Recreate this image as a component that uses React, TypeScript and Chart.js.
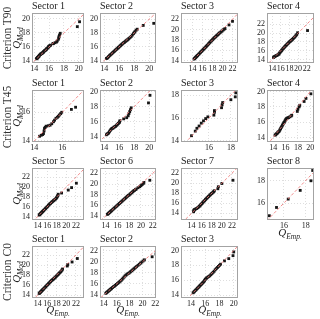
import React, { useEffect, useRef } from "react";
import { Chart, registerables } from "chart.js";
Chart.register(...registerables);

const SERIF = "'Liberation Serif', 'DejaVu Serif', serif";

// ---------- categories / labels ----------
const criteria = ["Criterion T90", "Criterion T45", "Criterion C0"];
const sectorTitles = [
  ["Sector 1", "Sector 2", "Sector 3", "Sector 4"],
  ["Sector 1", "Sector 2", "Sector 3", "Sector 4"],
  ["Sector 5", "Sector 6", "Sector 7", "Sector 8"],
  ["Sector 1", "Sector 2", "Sector 3"],
];

// ---------- tick labels ----------
const ticks14to20 = [14, 16, 18, 20];
const ticks14to22 = [14, 16, 18, 20, 22];
const ticks14to16 = [14, 16];
const ticks14to18 = [14, 16, 18];
const ticks16to18 = [16, 18];

// reference line y = x
const diagonal = [10, 26];

// ---------- series (Q_Emp -> x, Q_Mod -> y) ----------
const t90s1X = [14.3,14.35,14.4,14.45,14.5,14.55,14.6,14.65,14.7,14.8,14.85,14.9,15.0,15.05,15.1,15.2,15.25,15.3,15.4,15.45,15.5,15.6,15.65,15.7,15.8,15.9,15.95,16.0,16.1,16.2,16.5,16.6,16.8,17.0,17.1,17.25,17.3,17.35,17.4,17.5,19.8,20.1];
const t90s1Y = [14.3,14.35,14.4,14.5,14.5,14.6,14.65,14.7,14.8,14.9,14.95,15.0,15.05,15.1,15.15,15.2,15.3,15.35,15.45,15.5,15.55,15.6,15.7,15.75,15.85,15.95,16.05,16.1,16.2,16.25,16.45,16.5,16.6,16.7,16.85,17.1,17.3,17.5,17.7,17.95,18.9,19.6];

const t90s2X = [14.3,14.4,14.5,14.6,14.7,14.8,14.9,15.0,15.1,15.2,15.3,15.4,15.5,15.6,15.7,15.8,15.9,16.0,16.1,16.2,16.3,16.4,16.5,16.6,16.7,16.8,16.9,17.0,17.1,17.2,17.3,17.45,17.6,17.75,17.9,18.0,18.1,18.25,18.4,19.2,20.6];
const t90s2Y = [14.3,14.35,14.45,14.6,14.7,14.8,14.9,15.0,15.1,15.2,15.3,15.4,15.5,15.6,15.7,15.8,15.9,16.0,16.1,16.2,16.3,16.4,16.5,16.6,16.65,16.75,16.85,16.95,17.0,17.1,17.2,17.35,17.5,17.7,17.9,18.05,18.2,18.4,18.55,19.1,19.4];

const t90s3X = [14.3,14.4,14.5,14.6,14.7,14.8,14.9,15.0,15.15,15.3,15.45,15.6,15.75,15.9,16.05,16.2,16.35,16.5,16.65,16.8,16.95,17.1,17.25,17.4,17.55,17.7,17.85,18.0,18.15,18.3,18.45,18.6,18.75,18.9,19.05,19.2,19.35,19.5,19.7,19.9,20.1,20.3,20.5,21.3,22.0];
const t90s3Y = [14.3,14.4,14.5,14.6,14.7,14.8,14.9,15.0,15.15,15.3,15.45,15.6,15.75,15.9,16.05,16.2,16.35,16.5,16.65,16.8,16.95,17.1,17.3,17.45,17.6,17.75,17.9,18.05,18.2,18.35,18.5,18.6,18.75,18.9,19.0,19.15,19.3,19.4,19.55,19.7,19.9,20.05,20.2,20.9,21.6];

const t90s4X = [14.3,14.45,14.6,14.8,15.0,15.2,15.4,15.55,15.7,15.85,16.0,16.15,16.3,16.45,16.6,16.75,16.9,17.05,17.2,17.35,17.5,17.65,17.8,17.95,18.1,18.25,18.4,18.55,18.7,18.9,19.1,19.3,19.5,19.7,19.9,22.2];
const t90s4Y = [14.45,14.6,14.7,14.8,14.9,15.0,15.1,15.25,15.45,15.65,15.85,16.0,16.2,16.4,16.55,16.7,16.9,17.05,17.2,17.35,17.5,17.65,17.8,17.95,18.1,18.2,18.35,18.45,18.6,18.8,19.0,19.2,19.45,19.7,20.1,20.6];

const t45s1X = [14.38,14.5,14.6,14.66,14.7,14.73,14.78,14.85,15.0,15.13,15.25,15.37,15.45,15.55,15.65,15.72,15.79,15.88,15.96,16.65,16.95];
const t45s1Y = [14.33,14.4,14.45,14.52,14.7,14.87,14.95,15.03,15.06,15.1,15.2,15.34,15.45,15.58,15.65,15.72,15.81,15.9,16.0,16.2,16.35];

const t45s2X = [14.3,14.4,14.5,14.6,14.7,14.8,14.9,15.0,15.1,15.2,15.3,15.4,15.5,15.6,15.7,15.8,15.9,16.0,16.05,16.1,16.6,17.0,17.2,17.3,17.4,17.5,17.6,19.9,20.1];
const t45s2Y = [14.3,14.4,14.45,14.55,14.7,14.85,15.0,15.1,15.15,15.2,15.3,15.35,15.4,15.5,15.6,15.7,15.8,15.9,16.0,16.15,16.4,16.55,16.8,17.1,17.35,17.6,17.85,18.5,19.5];

const t45s3X = [14.41,14.75,14.9,15.1,15.3,15.5,15.7,15.9,16.45,16.5,16.5,17.15,17.2,17.25,18.0,18.4,18.45];
const t45s3Y = [14.45,14.85,15.1,15.3,15.55,15.75,15.95,16.1,16.25,16.5,16.65,16.9,17.15,17.35,17.6,17.85,18.2];

const t45s4X = [14.3,14.4,14.5,14.6,14.7,14.8,14.9,15.0,15.1,15.2,15.3,15.4,15.5,15.6,15.7,15.8,15.9,16.0,16.1,16.2,16.35,16.5,16.7,16.9,17.0,17.9,18.0,18.2,18.3,19.0,19.3,20.1];
const t45s4Y = [14.3,14.35,14.45,14.5,14.6,14.7,14.75,14.85,15.0,15.15,15.3,15.45,15.6,15.75,15.9,16.0,16.15,16.3,16.4,16.5,16.55,16.6,16.7,16.8,16.9,17.4,17.7,18.0,18.2,18.7,19.1,19.7];

const t45s5X = [14.3,14.4,14.5,14.6,14.7,14.8,14.9,15.0,15.1,15.2,15.35,15.5,15.65,15.8,15.95,16.1,16.25,16.4,16.55,16.7,16.85,17.0,17.15,17.3,17.45,17.6,17.75,17.9,18.0,18.1,18.2,18.3,19.0,20.4,21.1,22.1];
const t45s5Y = [14.3,14.4,14.5,14.6,14.7,14.8,14.9,15.0,15.1,15.2,15.35,15.5,15.65,15.8,15.95,16.1,16.3,16.45,16.6,16.7,16.85,17.0,17.1,17.25,17.35,17.5,17.6,17.75,17.9,18.1,18.3,18.55,18.8,19.4,19.9,20.8];

const t45s6X = [14.3,14.4,14.5,14.6,14.7,14.8,14.9,15.0,15.15,15.3,15.45,15.6,15.75,15.9,16.05,16.2,16.35,16.5,16.65,16.8,16.95,17.1,17.25,17.4,17.55,17.7,17.85,18.0,18.15,18.3,18.45,18.6,18.75,18.9,19.05,19.2,19.5,19.8,20.0,20.2,20.4,20.5,21.5];
const t45s6Y = [14.3,14.4,14.5,14.6,14.7,14.8,14.9,15.0,15.15,15.3,15.45,15.6,15.75,15.9,16.05,16.2,16.35,16.5,16.65,16.8,16.95,17.1,17.25,17.4,17.55,17.7,17.85,17.95,18.1,18.25,18.4,18.55,18.7,18.8,18.95,19.05,19.3,19.5,19.7,19.9,20.1,20.3,20.7];

const t45s7X = [14.4,14.45,14.5,14.6,14.8,15.0,15.2,15.4,15.55,15.7,15.85,16.0,16.15,16.3,16.45,16.6,16.75,16.9,17.05,17.2,17.35,17.5,17.65,17.8,17.95,18.1,18.25,18.4,18.5,19.2,19.3,20.0,22.2];
const t45s7Y = [14.3,14.55,14.65,14.75,14.85,14.95,15.1,15.25,15.4,15.55,15.75,15.9,16.05,16.25,16.4,16.55,16.75,16.9,17.05,17.2,17.35,17.5,17.65,17.8,17.95,18.05,18.2,18.35,18.5,18.9,19.3,19.95,20.6];

const t45s8X = [14.66,15.32,16.39,17.49,18.47,18.63];
const t45s8Y = [14.88,15.61,16.35,17.12,17.97,18.88];

const c0s1X = [14.3,14.4,14.5,14.6,14.7,14.8,14.9,15.0,15.1,15.2,15.35,15.5,15.65,15.8,15.95,16.1,16.25,16.4,16.55,16.7,16.85,17.0,17.15,17.3,17.45,17.6,17.75,17.9,18.05,18.2,18.35,18.5,18.65,18.8,18.95,19.1,19.2,20.2,20.3,21.2,22.3];
const c0s1Y = [14.3,14.4,14.5,14.6,14.7,14.8,14.9,15.0,15.1,15.2,15.35,15.5,15.65,15.8,15.95,16.1,16.25,16.4,16.55,16.7,16.85,16.95,17.1,17.2,17.35,17.45,17.6,17.75,17.9,18.05,18.2,18.35,18.5,18.65,18.8,19.0,19.2,19.8,20.1,20.6,21.3];

const c0s2X = [14.3,14.4,14.5,14.6,14.7,14.8,14.9,15.0,15.1,15.2,15.35,15.5,15.65,15.8,15.95,16.1,16.25,16.4,16.55,16.7,16.85,17.0,17.15,17.3,17.45,17.6,17.75,17.9,18.05,18.2,18.35,18.5,18.65,18.8,18.95,19.1,19.3,19.5,19.7,19.9,20.1,20.3,21.5,22.1];
const c0s2Y = [14.3,14.4,14.5,14.6,14.7,14.8,14.9,15.0,15.1,15.2,15.35,15.5,15.6,15.75,15.9,16.05,16.2,16.35,16.5,16.65,16.85,17.05,17.25,17.45,17.6,17.75,17.85,17.95,18.1,18.25,18.4,18.55,18.7,18.85,19.0,19.15,19.35,19.55,19.75,19.95,20.15,20.35,20.9,21.4];

const c0s3X = [14.3,14.4,14.5,14.6,14.7,14.8,14.9,15.0,15.1,15.2,15.3,15.4,15.5,15.6,15.7,15.8,15.9,16.0,16.1,16.2,16.35,16.5,16.65,16.8,16.95,17.1,17.25,17.4,17.55,17.7,17.85,18.0,18.15,18.7,19.3,19.9,20.0];
const c0s3Y = [14.3,14.4,14.5,14.6,14.7,14.8,14.9,15.0,15.1,15.2,15.3,15.4,15.5,15.6,15.7,15.8,15.95,16.1,16.2,16.3,16.4,16.5,16.6,16.75,16.9,17.05,17.2,17.4,17.55,17.7,17.85,18.0,18.15,18.6,18.9,19.3,19.8];

// ---------- layout ----------
const COL_L = [32, 100, 181, 267];
const COL_R = [84, 156, 238, 314];
const ROW_T = [13, 90, 168, 246];
const ROW_B = [63, 142, 220, 298];
const YW = 18, TH = 13, XH = 13, RP = 6;

type Spec = {
  row: number; col: number; xs: number[]; ys: number[];
  xr: [number, number]; yr: [number, number]; xt: number[]; yt: number[];
};

const panels: Spec[] = [
  { row: 0, col: 0, xs: t90s1X, ys: t90s1Y, xr: [13.7, 20.7], yr: [13.7, 20.85], xt: ticks14to20, yt: ticks14to20 },
  { row: 0, col: 1, xs: t90s2X, ys: t90s2Y, xr: [13.45, 20.9], yr: [13.65, 20.9], xt: ticks14to20, yt: ticks14to20 },
  { row: 0, col: 2, xs: t90s3X, ys: t90s3Y, xr: [11.7, 23.1], yr: [13.55, 23.2], xt: ticks14to22, yt: ticks14to22 },
  { row: 0, col: 3, xs: t90s4X, ys: t90s4Y, xr: [12.8, 23.7], yr: [13.2, 24.6], xt: ticks14to22, yt: ticks14to22 },
  { row: 1, col: 0, xs: t45s1X, ys: t45s1Y, xr: [13.84, 17.55], yr: [13.93, 17.55], xt: ticks14to16, yt: ticks14to16 },
  { row: 1, col: 1, xs: t45s2X, ys: t45s2Y, xr: [13.45, 20.9], yr: [13.35, 20.2], xt: ticks14to20, yt: ticks14to20 },
  { row: 1, col: 2, xs: t45s3X, ys: t45s3Y, xr: [13.45, 18.65], yr: [13.9, 18.45], xt: ticks16to18, yt: ticks14to18 },
  { row: 1, col: 3, xs: t45s4X, ys: t45s4Y, xr: [13.0, 20.6], yr: [13.4, 20.2], xt: ticks14to20, yt: ticks14to20 },
  { row: 2, col: 0, xs: t45s5X, ys: t45s5Y, xr: [12.8, 23.7], yr: [13.3, 23.9], xt: ticks14to22, yt: ticks14to22 },
  { row: 2, col: 1, xs: t45s6X, ys: t45s6Y, xr: [13.05, 22.55], yr: [13.25, 23.0], xt: ticks14to22, yt: ticks14to22 },
  { row: 2, col: 2, xs: t45s7X, ys: t45s7Y, xr: [11.9, 23.2], yr: [12.65, 23.05], xt: ticks14to22, yt: ticks14to22 },
  { row: 2, col: 3, xs: t45s8X, ys: t45s8Y, xr: [14.45, 18.75], yr: [14.5, 19.1], xt: ticks16to18, yt: ticks16to18 },
  { row: 3, col: 0, xs: c0s1X, ys: c0s1Y, xr: [12.8, 23.7], yr: [13.4, 23.8], xt: ticks14to22, yt: ticks14to22 },
  { row: 3, col: 1, xs: c0s2X, ys: c0s2Y, xr: [13.4, 22.1], yr: [13.45, 22.85], xt: ticks14to22, yt: ticks14to22 },
  { row: 3, col: 2, xs: c0s3X, ys: c0s3Y, xr: [12.6, 20.6], yr: [13.6, 20.6], xt: ticks14to20, yt: ticks14to20 },
];

const framePlugin = {
  id: "frame",
  afterDraw(chart: any) {
    const { ctx, chartArea } = chart;
    const l = Math.round(chartArea.left), t = Math.round(chartArea.top);
    const r = Math.round(chartArea.right), b = Math.round(chartArea.bottom);
    ctx.save();
    ctx.strokeStyle = "#a3a3a3";
    ctx.lineWidth = 1;
    ctx.strokeRect(l + 0.5, t + 0.5, r - l - 1, b - t - 1);
    ctx.restore();
  },
};

function Panel({ spec }: { spec: Spec }) {
  const ref = useRef<HTMLCanvasElement>(null);
  const boxW = COL_R[spec.col] - COL_L[spec.col];
  const boxH = ROW_B[spec.row] - ROW_T[spec.row];
  const W = boxW + YW + RP;
  const H = boxH + TH + XH;
  const L = COL_L[spec.col] - YW;
  const T = ROW_T[spec.row] - TH;
  const title = sectorTitles[spec.row][spec.col];

  useEffect(() => {
    const tickFont = { family: SERIF, size: 8 };
    const chart = new Chart(ref.current as HTMLCanvasElement, {
      type: "scatter",
      data: {
        datasets: [
          {
            data: diagonal.map((v) => ({ x: v, y: v })),
            showLine: true,
            borderColor: "rgba(240,120,120,0.85)",
            borderWidth: 1,
            borderDash: [3, 2],
            pointRadius: 0,
            fill: false,
          } as any,
          {
            data: spec.xs.map((v, i) => ({ x: v, y: spec.ys[i] })),
            pointStyle: "rect",
            pointRadius: 2,
            backgroundColor: "#161616",
            borderColor: "#000",
            borderWidth: 0,
          } as any,
        ],
      },
      options: {
        animation: false,
        responsive: false,
        devicePixelRatio: 1,
        layout: { padding: { left: 0, right: RP, top: 0, bottom: 0 } },
        plugins: {
          legend: { display: false },
          tooltip: { enabled: false },
          title: {
            display: true,
            text: title,
            align: "start",
            fullSize: false,
            color: "#222",
            font: { family: SERIF, size: 10, weight: "normal" },
            padding: { top: 0, bottom: 1 },
          },
        },
        scales: {
          x: {
            type: "linear",
            min: spec.xr[0],
            max: spec.xr[1],
            afterBuildTicks: (s: any) => { s.ticks = spec.xt.map((v) => ({ value: v })); },
            afterFit: (s: any) => { s.height = XH; },
            grid: { color: "#d6d6d6", lineWidth: 0.8, drawTicks: false },
            border: { display: false, dash: [1, 2] },
            ticks: { font: tickFont, color: "#222", padding: 1, maxRotation: 0, autoSkip: false, callback: (v: any) => String(v) },
          },
          y: {
            type: "linear",
            min: spec.yr[0],
            max: spec.yr[1],
            afterBuildTicks: (s: any) => { s.ticks = spec.yt.map((v) => ({ value: v })); },
            afterFit: (s: any) => { s.width = YW; },
            grid: { color: "#d6d6d6", lineWidth: 0.8, drawTicks: false },
            border: { display: false, dash: [1, 2] },
            ticks: { font: tickFont, color: "#222", padding: 2, autoSkip: false, callback: (v: any) => String(v) },
          },
        },
      } as any,
      plugins: [framePlugin],
    });
    return () => chart.destroy();
  }, []);

  return (
    <canvas
      ref={ref}
      width={W}
      height={H}
      style={{ position: "absolute", left: L, top: T, width: W, height: H }}
    />
  );
}

function QLabel({ sub, cx, cy, rotate }: { sub: string; cx: number; cy: number; rotate?: boolean }) {
  return (
    <div
      style={{
        position: "absolute",
        left: cx,
        top: cy,
        transform: `translate(-50%, -50%)${rotate ? " rotate(-90deg)" : ""}`,
        whiteSpace: "nowrap",
        fontFamily: SERIF,
        fontStyle: "italic",
        fontSize: 11,
        lineHeight: "11px",
        color: "#222",
      }}
    >
      Q<span style={{ fontSize: 7.5, position: "relative", top: 3 }}>{sub}</span>
    </div>
  );
}

function RowLabel({ text, cy }: { text: string; cy: number }) {
  return (
    <div
      style={{
        position: "absolute",
        left: 7,
        top: cy,
        transform: "translate(-50%, -50%) rotate(-90deg)",
        whiteSpace: "nowrap",
        fontFamily: SERIF,
        fontSize: 11.5,
        lineHeight: "12px",
        color: "#333",
      }}
    >
      {text}
    </div>
  );
}

export default function App() {
  return (
    <div style={{ position: "absolute", left: 0, top: 0, width: 320, height: 319, background: "#fff", overflow: "hidden" }}>
      {panels.map((p, i) => (
        <Panel key={i} spec={p} />
      ))}
      <RowLabel text={criteria[0]} cy={38} />
      <RowLabel text={criteria[1]} cy={117} />
      <RowLabel text={criteria[2]} cy={272} />
      <QLabel sub="Mod" cx={17} cy={38} rotate />
      <QLabel sub="Mod" cx={17} cy={116} rotate />
      <QLabel sub="Mod" cx={17} cy={194} rotate />
      <QLabel sub="Mod" cx={17} cy={272} rotate />
      <QLabel sub="Emp." cx={58} cy={310} />
      <QLabel sub="Emp." cx={128} cy={310} />
      <QLabel sub="Emp." cx={210} cy={310} />
      <QLabel sub="Emp." cx={290} cy={233} />
    </div>
  );
}
